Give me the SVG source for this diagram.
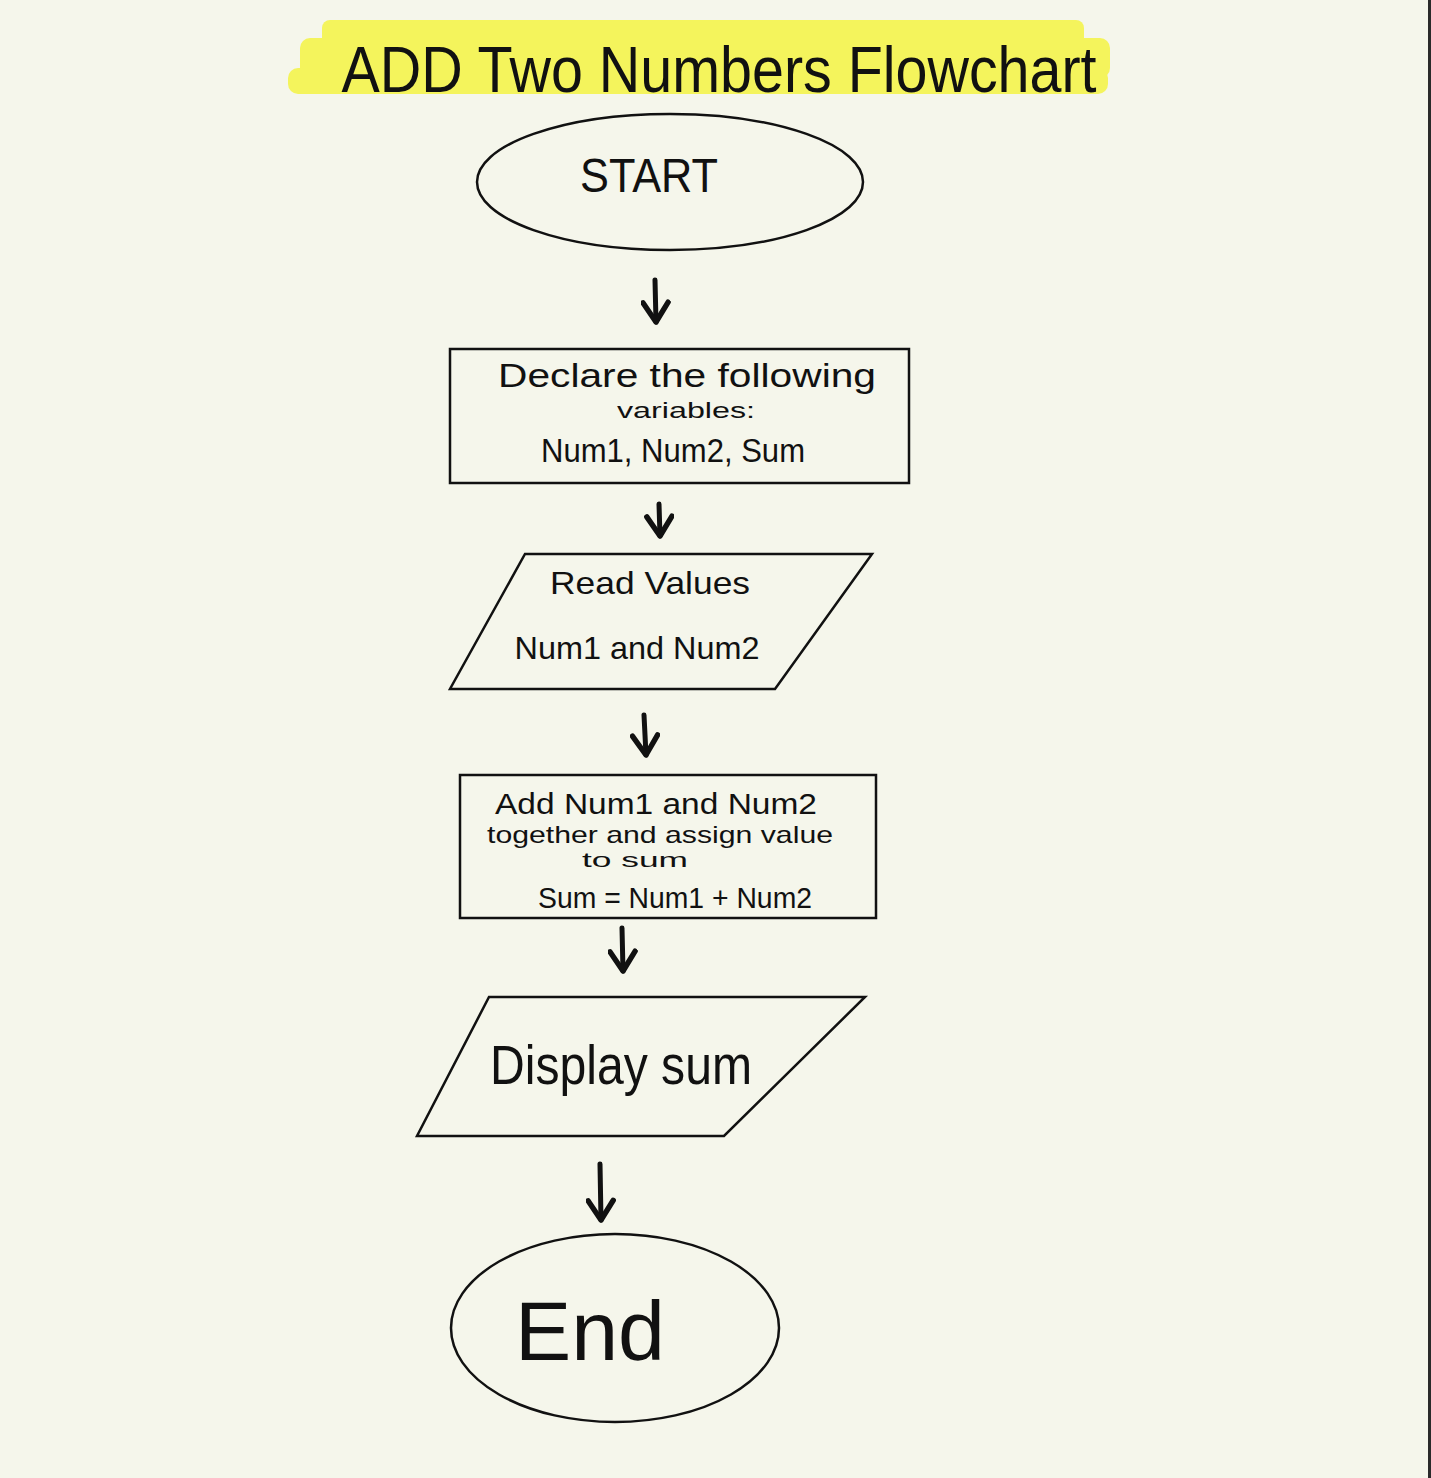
<svg xmlns="http://www.w3.org/2000/svg" width="1431" height="1478" viewBox="0 0 1431 1478">
<defs>
<style>
.shape{fill:none;stroke:#111;stroke-width:2.5}
.t{font-family:"Liberation Sans",Arial,sans-serif;fill:#111;text-anchor:middle}
.conn{fill:none;stroke:#111;stroke-width:5;stroke-linecap:round;stroke-linejoin:round}
.hl{fill:#f4f45c}
</style>
<marker id="ah" viewBox="0 0 10 10" refX="9" refY="5" markerWidth="6" markerHeight="6" orient="auto" markerUnits="strokeWidth">
<path d="M2.5,0.8 L9,5 L2.5,9.2" fill="none" stroke="#111" stroke-width="1.8" stroke-linecap="round" stroke-linejoin="round"/>
</marker>
</defs>
<rect x="0" y="0" width="1431" height="1478" fill="#f5f6eb"/>
<rect x="1428" y="0" width="3" height="1478" fill="#2a2a2a"/>

<g id="title">
<rect class="hl" x="322" y="20" width="762" height="40" rx="8"/>
<rect class="hl" x="300" y="38" width="810" height="40" rx="10"/>
<rect class="hl" x="288" y="68" width="820" height="26" rx="10"/>
<text class="t" x="719" y="92" font-size="64" textLength="755" lengthAdjust="spacingAndGlyphs">ADD Two Numbers Flowchart</text>
</g>

<g id="start">
<ellipse class="shape" cx="670" cy="182" rx="193" ry="68"/>
<text class="t" x="649" y="192" font-size="48" textLength="138" lengthAdjust="spacingAndGlyphs">START</text>
</g>

<g id="declare">
<rect class="shape" x="450" y="349" width="459" height="134"/>
<text class="t" x="687" y="387" font-size="34" textLength="378" lengthAdjust="spacingAndGlyphs">Declare the following</text>
<text class="t" x="686" y="418" font-size="22" textLength="138" lengthAdjust="spacingAndGlyphs">variables:</text>
<text class="t" x="673" y="462" font-size="34" textLength="264" lengthAdjust="spacingAndGlyphs">Num1, Num2, Sum</text>
</g>

<g id="read">
<polygon class="shape" points="525,554 872,554 775,689 450,689"/>
<text class="t" x="650" y="594" font-size="32" textLength="200" lengthAdjust="spacingAndGlyphs">Read Values</text>
<text class="t" x="637" y="659" font-size="32" textLength="245" lengthAdjust="spacingAndGlyphs">Num1 and Num2</text>
</g>

<g id="add">
<rect class="shape" x="460" y="775" width="416" height="143"/>
<text class="t" x="656" y="814" font-size="30" textLength="322" lengthAdjust="spacingAndGlyphs">Add Num1 and Num2</text>
<text class="t" x="660" y="843" font-size="24" textLength="346" lengthAdjust="spacingAndGlyphs">together and assign value</text>
<text class="t" x="635" y="867" font-size="21" textLength="106" lengthAdjust="spacingAndGlyphs">to sum</text>
<text class="t" x="675" y="908" font-size="30" textLength="274" lengthAdjust="spacingAndGlyphs">Sum = Num1 + Num2</text>
</g>

<g id="display">
<polygon class="shape" points="489,997 865,997 724,1136 417,1136"/>
<text class="t" x="621" y="1084" font-size="56" textLength="262" lengthAdjust="spacingAndGlyphs">Display sum</text>
</g>

<g id="end">
<ellipse class="shape" cx="615" cy="1328" rx="164" ry="94"/>
<text class="t" x="590" y="1360" font-size="84" textLength="150" lengthAdjust="spacingAndGlyphs">End</text>
</g>

<g id="connectors">
<path class="conn" d="M655,280 L656,322" marker-end="url(#ah)"/>
<path class="conn" d="M659,504 L660,536" marker-end="url(#ah)"/>
<path class="conn" d="M644,715 L646,755" marker-end="url(#ah)"/>
<path class="conn" d="M622,928 L623,971" marker-end="url(#ah)"/>
<path class="conn" d="M600,1164 L601,1220" marker-end="url(#ah)"/>
</g>
</svg>
